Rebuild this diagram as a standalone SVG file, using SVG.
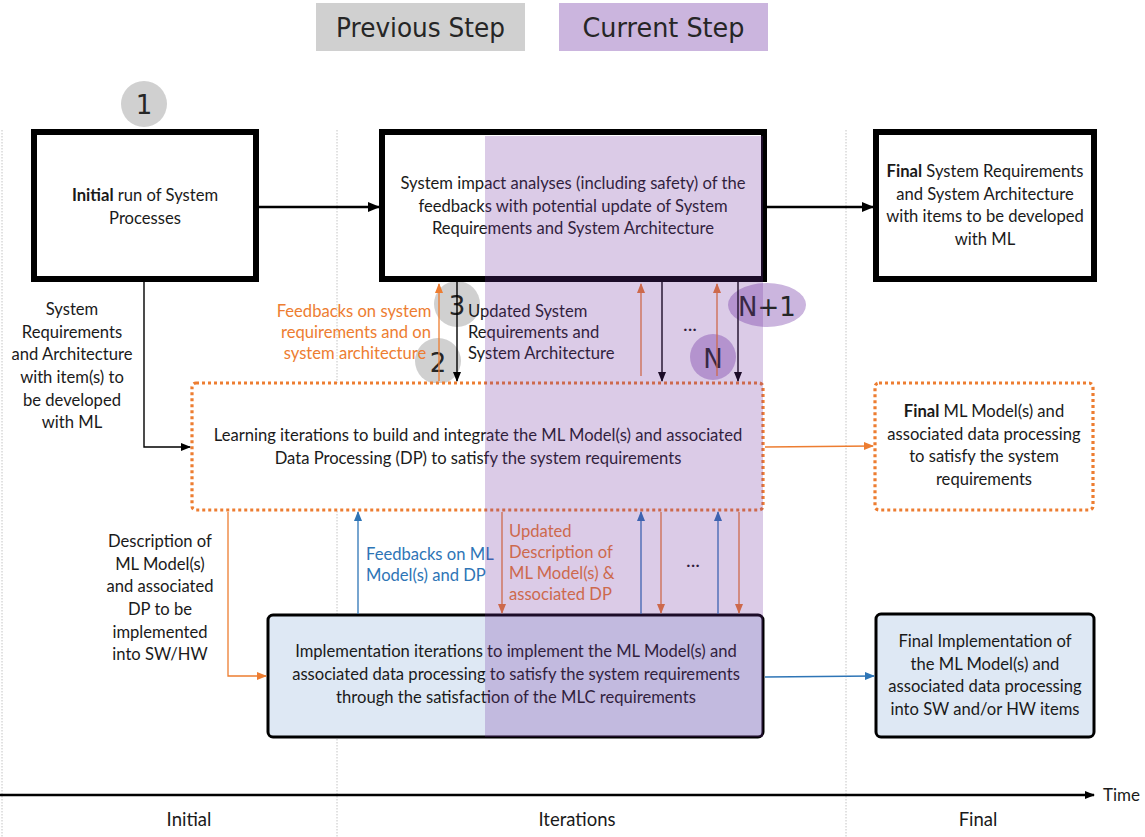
<svg xmlns="http://www.w3.org/2000/svg" width="1145" height="837" viewBox="0 0 1145 837">
  <style>
    .t { font-family: Lato, "Liberation Sans", sans-serif; font-size: 16.6px; fill: #1a1a1a; }
    .c { text-anchor: middle; }
    .b { font-weight: bold; }
    .or { fill: #ed7d31; }
    .bl { fill: #2e75b6; }
    .dots { font-family: Lato, "Liberation Sans", sans-serif; font-size: 20px; fill: #1a1a1a; text-anchor: middle; }
    .num { font-family: "DejaVu Sans", sans-serif; font-size: 26px; fill: #262626; text-anchor: middle; }
    .leg { font-family: "DejaVu Sans", sans-serif; font-size: 26px; fill: #262626; text-anchor: middle; }
    .phase { font-family: Lato, "Liberation Sans", sans-serif; font-size: 18.5px; fill: #1a1a1a; text-anchor: middle; }
    .heavy { fill: #fff; stroke: #000; stroke-width: 6; }
    .dotbox { fill: #fff; stroke: #ed7d31; stroke-width: 3.2; stroke-dasharray: 3 3; }
    .impl { fill: #dee8f4; stroke: #000; stroke-width: 3; }
    .guide { stroke: #c4c4c4; stroke-width: 1; stroke-dasharray: 1.5 1.5; fill: none; }
    .k { stroke: #000; stroke-width: 1.4; fill: none; }
    .kk { stroke: #000; stroke-width: 2.6; fill: none; }
    .o { stroke: #ed7d31; stroke-width: 1.3; fill: none; }
    .u { stroke: #2e75b6; stroke-width: 1.3; fill: none; }
  </style>
  <defs>
    <marker id="ahK" markerUnits="userSpaceOnUse" markerWidth="10" markerHeight="10" viewBox="0 0 10 10" refX="9" refY="5" orient="auto">
      <path d="M0,1 L10,5 L0,9 Z" fill="#000"/>
    </marker>
    <marker id="ahKK" markerUnits="userSpaceOnUse" markerWidth="12" markerHeight="12" viewBox="0 0 12 12" refX="11" refY="6" orient="auto">
      <path d="M0,1 L12,6 L0,11 Z" fill="#000"/>
    </marker>
    <marker id="ahO" markerUnits="userSpaceOnUse" markerWidth="10" markerHeight="10" viewBox="0 0 10 10" refX="9" refY="5" orient="auto">
      <path d="M0,1 L10,5 L0,9 Z" fill="#ed7d31"/>
    </marker>
    <marker id="ahU" markerUnits="userSpaceOnUse" markerWidth="10" markerHeight="10" viewBox="0 0 10 10" refX="9" refY="5" orient="auto">
      <path d="M0,1 L10,5 L0,9 Z" fill="#2e75b6"/>
    </marker>
  </defs>

  <rect width="1145" height="837" fill="#fff"/>

  <!-- phase guides -->
  <g id="guides">
    <line class="guide" x1="2" y1="130" x2="2" y2="837"/>
    <line class="guide" x1="337" y1="130" x2="337" y2="837"/>
    <line class="guide" x1="846" y1="130" x2="846" y2="837"/>
  </g>

  <!-- legend -->
  <g id="legend">
    <rect x="316" y="3" width="209" height="48" fill="#d0d0d0"/>
    <text class="leg" x="420.5" y="37" textLength="169" lengthAdjust="spacingAndGlyphs">Previous Step</text>
    <rect x="559" y="3" width="209" height="48" fill="#cbb5de"/>
    <text class="leg" x="663.5" y="37" textLength="162" lengthAdjust="spacingAndGlyphs">Current Step</text>
  </g>

  <!-- step markers (under connectors) -->
  <g id="step-markers">
    <circle cx="144" cy="104" r="23" fill="#d0d0d0"/>
    <text class="num" x="144" y="114">1</text>
    <circle cx="438" cy="361" r="23" fill="#d0d0d0"/>
    <text class="num" x="438" y="372">2</text>
    <circle cx="457" cy="304" r="23" fill="#d0d0d0"/>
    <text class="num" x="457" y="315">3</text>
    <circle cx="713" cy="357" r="23" fill="#cbb5de"/>
    <text class="num" x="713" y="368">N</text>
    <ellipse cx="767" cy="305" rx="39" ry="22" fill="#cbb5de"/>
    <text class="num" x="767" y="316">N+1</text>
  </g>

  <!-- nodes -->
  <g id="initial-run">
    <rect class="heavy" x="34" y="132" width="222" height="147"/>
    <text class="t c" x="145" y="201"><tspan class="b">Initial</tspan> run of System</text>
    <text class="t c" x="145" y="224">Processes</text>
  </g>

  <g id="impact-analyses">
    <rect class="heavy" x="382" y="132" width="382" height="147"/>
    <text class="t c" x="573" y="189">System impact analyses (including safety) of the</text>
    <text class="t c" x="573" y="211.5">feedbacks with potential update of System</text>
    <text class="t c" x="573" y="234">Requirements and System Architecture</text>
  </g>

  <g id="final-system">
    <rect class="heavy" x="876" y="132" width="218" height="147"/>
    <text class="t c" x="985" y="177"><tspan class="b">Final</tspan> System Requirements</text>
    <text class="t c" x="985" y="199.5">and System Architecture</text>
    <text class="t c" x="985" y="222">with items to be developed</text>
    <text class="t c" x="985" y="244.5">with ML</text>
  </g>

  <g id="learning-iterations">
    <rect class="dotbox" x="192" y="383" width="571" height="127" rx="4"/>
    <text class="t c" x="478" y="441">Learning iterations to build and integrate the ML Model(s) and associated</text>
    <text class="t c" x="478" y="463.5">Data Processing (DP) to satisfy the system requirements</text>
  </g>

  <g id="final-ml-model">
    <rect class="dotbox" x="875" y="383" width="218" height="127" rx="4"/>
    <text class="t c" x="984" y="417"><tspan class="b">Final</tspan> ML Model(s) and</text>
    <text class="t c" x="984" y="439.5">associated data processing</text>
    <text class="t c" x="984" y="462">to satisfy the system</text>
    <text class="t c" x="984" y="484.5">requirements</text>
  </g>

  <g id="implementation-iterations">
    <rect class="impl" x="268" y="615" width="495" height="122" rx="5"/>
    <text class="t c" x="516" y="657">Implementation iterations to implement the ML Model(s) and</text>
    <text class="t c" x="516" y="680">associated data processing to satisfy the system requirements</text>
    <text class="t c" x="516" y="703">through the satisfaction of the MLC requirements</text>
  </g>

  <g id="final-implementation">
    <rect class="impl" x="876" y="614" width="218" height="123" rx="5"/>
    <text class="t c" x="985" y="647">Final Implementation of</text>
    <text class="t c" x="985" y="669.5">the ML Model(s) and</text>
    <text class="t c" x="985" y="692">associated data processing</text>
    <text class="t c" x="985" y="714.5">into SW and/or HW items</text>
  </g>

  <!-- connectors -->
  <g id="connectors">
    <line class="kk" x1="259" y1="207" x2="379" y2="207" marker-end="url(#ahKK)"/>
    <line class="kk" x1="767" y1="207" x2="873" y2="207" marker-end="url(#ahKK)"/>
    <polyline class="k" points="144,282 144,447 190,447" marker-end="url(#ahK)"/>

    <!-- system feedback loops -->
    <line class="o" x1="439" y1="381" x2="439" y2="284" marker-end="url(#ahO)"/>
    <line class="k" x1="457" y1="282" x2="457" y2="381" marker-end="url(#ahK)"/>
    <line class="o" x1="641" y1="376" x2="641" y2="284" marker-end="url(#ahO)"/>
    <line class="k" x1="662" y1="282" x2="662" y2="381" marker-end="url(#ahK)"/>
    <line class="o" x1="717" y1="376" x2="717" y2="284" marker-end="url(#ahO)"/>
    <line class="k" x1="738" y1="282" x2="738" y2="381" marker-end="url(#ahK)"/>

    <!-- learning / implementation loops -->
    <polyline class="o" points="228,512 228,676 266,676" marker-end="url(#ahO)"/>
    <line class="u" x1="358" y1="614" x2="358" y2="512" marker-end="url(#ahU)"/>
    <line class="o" x1="502" y1="512" x2="502" y2="613" marker-end="url(#ahO)"/>
    <line class="u" x1="641" y1="614" x2="641" y2="512" marker-end="url(#ahU)"/>
    <line class="o" x1="661" y1="512" x2="661" y2="613" marker-end="url(#ahO)"/>
    <line class="u" x1="718" y1="614" x2="718" y2="512" marker-end="url(#ahU)"/>
    <line class="o" x1="739" y1="512" x2="739" y2="613" marker-end="url(#ahO)"/>

    <!-- to final column -->
    <line class="o" x1="765" y1="447" x2="873" y2="446" marker-end="url(#ahO)"/>
    <line class="u" x1="765" y1="677" x2="874" y2="676" marker-end="url(#ahU)"/>
  </g>

  <!-- connector labels -->
  <g id="labels">
    <text class="t c" x="72" y="315">System</text>
    <text class="t c" x="72" y="338">Requirements</text>
    <text class="t c" x="72" y="360">and Architecture</text>
    <text class="t c" x="72" y="383">with item(s) to</text>
    <text class="t c" x="72" y="406">be developed</text>
    <text class="t c" x="72" y="428">with ML</text>

    <text class="t c or" x="354" y="317">Feedbacks on system</text>
    <text class="t c or" x="356" y="338">requirements and on</text>
    <text class="t c or" x="355" y="359">system architecture</text>

    <text class="t" x="468" y="317">Updated System</text>
    <text class="t" x="468" y="338">Requirements and</text>
    <text class="t" x="468" y="359">System Architecture</text>

    <text class="dots" x="690" y="331">...</text>

    <text class="t c" x="160" y="547">Description of</text>
    <text class="t c" x="160" y="570">ML Model(s)</text>
    <text class="t c" x="160" y="592">and associated</text>
    <text class="t c" x="160" y="615">DP to be</text>
    <text class="t c" x="160" y="638">implemented</text>
    <text class="t c" x="160" y="660">into SW/HW</text>

    <text class="t bl" x="366" y="560">Feedbacks on ML</text>
    <text class="t bl" x="366" y="581">Model(s) and DP</text>

    <text class="t or" x="509" y="537">Updated</text>
    <text class="t or" x="509" y="558">Description of</text>
    <text class="t or" x="509" y="579">ML Model(s) &amp;</text>
    <text class="t or" x="509" y="600">associated DP</text>

    <text class="dots" x="693" y="567">...</text>
  </g>

  <!-- current step band -->
  <rect id="current-band" x="485" y="136" width="278" height="601" fill="#7030a0" fill-opacity="0.25"/>

  <!-- time axis -->
  <g id="time-axis">
    <line class="kk" x1="0" y1="795" x2="1094" y2="795" marker-end="url(#ahK)"/>
    <text class="t" x="1103" y="801" style="font-size:17px">Time</text>
    <text class="phase" x="189" y="826">Initial</text>
    <text class="phase" x="577" y="826">Iterations</text>
    <text class="phase" x="978" y="826">Final</text>
  </g>
</svg>
